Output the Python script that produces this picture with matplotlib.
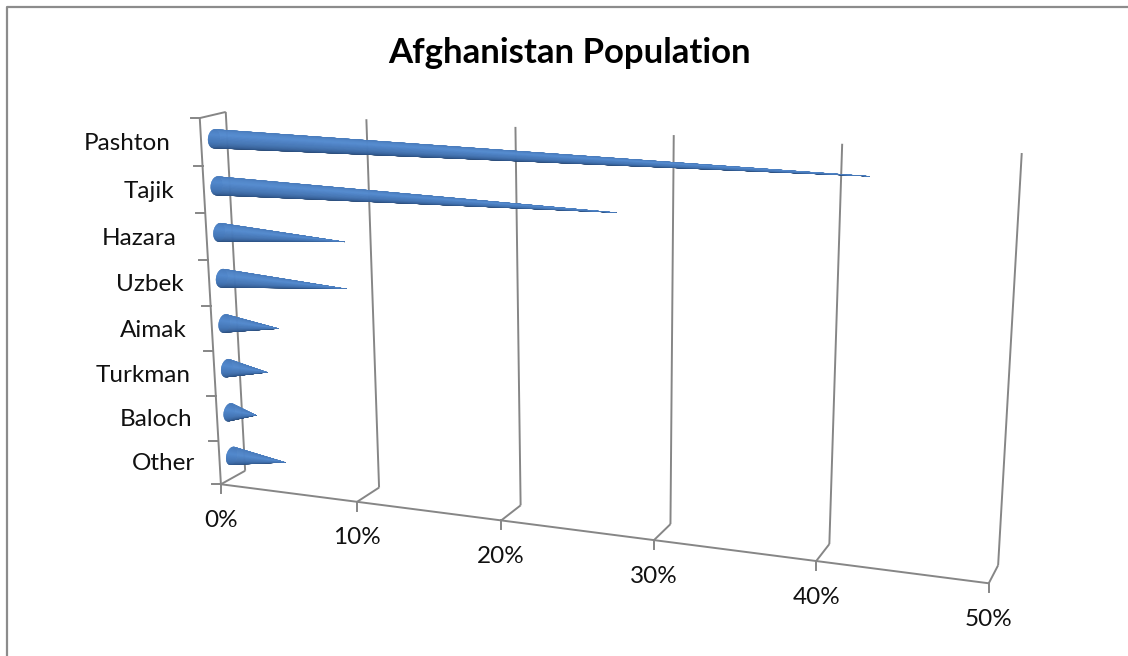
# encoding:utf-8
# Afghanistan ethnic groups drawn as 3D horizontal cones
import numpy as np
import matplotlib
matplotlib.use('Agg')
import matplotlib.pyplot as plt
from matplotlib.collections import PolyCollection
from matplotlib.colors import LinearSegmentedColormap

categories = ['Pashton', 'Tajik', 'Hazara', 'Uzbek', 'Aimak', 'Turkman', 'Baloch', 'Other']
shares = [42, 27, 9, 9, 4, 3, 2, 4]
x_ticks = [0, 10, 20, 30, 40, 50]
title = 'Afghanistan Population'

# box corners on the canvas: (value, height, depth) -> (px, py)
camera_anchors = [
    (0, 0, 0, 221, 484), (10, 0, 0, 357, 501), (20, 0, 0, 501, 521),
    (30, 0, 0, 654, 541), (40, 0, 0, 816, 561), (50, 0, 0, 989, 583),
    (0, 0, 1, 245, 471), (10, 0, 1, 379, 487), (20, 0, 1, 521, 506),
    (30, 0, 1, 671, 525), (40, 0, 1, 829, 543), (50, 0, 1, 998, 565),
    (0, 1, 1, 226, 112), (10, 1, 1, 366, 119), (20, 1, 1, 515, 127),
    (30, 1, 1, 674, 135), (40, 1, 1, 842, 144), (50, 1, 1, 1022, 153),
    (0, 1, 0, 200, 118),
]
grid_color = '#868686'
label_gap = [31, 30, 30, 26, 25, 24, 25, 25]
radius_h = 0.0245
radius_d = 0.24


# fit a 3x4 projection to the box corners
def fit_camera(anchors):
    rows = []
    rhs = []
    for v, h, d, px, py in anchors:
        rows.append([v, h, d, 1, 0, 0, 0, 0, -px * v, -px * h, -px * d])
        rows.append([0, 0, 0, 0, v, h, d, 1, -py * v, -py * h, -py * d])
        rhs += [px, py]
    p = np.linalg.lstsq(np.array(rows, float), np.array(rhs, float), rcond=None)[0]
    return np.append(p, 1).reshape(3, 4)


camera = fit_camera(camera_anchors)


def project(v, h, d):
    v, h, d = np.broadcast_arrays(v, h, d)
    q = camera @ np.array([v, h, d, np.ones_like(v)], dtype=float)
    return q[0] / q[2], q[1] / q[2]


def line3d(ax, a, b, lw=1.4):
    xs, ys = project(np.array([a[0], b[0]]), np.array([a[1], b[1]]), np.array([a[2], b[2]]))
    ax.plot(xs, ys, color=grid_color, lw=lw, solid_capstyle='butt', zorder=1)


plt.rcParams['font.family'] = ['Lato', 'DejaVu Sans']
fig = plt.figure(figsize=(11.28, 6.56), dpi=100)
ax = fig.add_axes([0, 0, 1, 1])
ax.set_xlim(0, 1128)
ax.set_ylim(656, 0)
ax.axis('off')

# chart frame, right and bottom sides run off the canvas
ax.plot([6.5, 6.5, 1140], [670, 6.5, 6.5], color='#8c8c8c', lw=1.6, zorder=1)

ax.text(570, 53, title, ha='center', va='center', fontsize=25, fontweight='bold', color='black')

# walls and floor
x_max = x_ticks[-1]
for tick in x_ticks:
    line3d(ax, (tick, 0, 0), (tick, 0, 1))
    line3d(ax, (tick, 0, 1), (tick, 1, 1))
    px, py = project(tick, 0, 0)
    ax.plot([px, px], [py, py + 9], color=grid_color, lw=1.4, zorder=1)
    ax.text(px, py + 36, '%d%%' % tick, ha='center', va='center', fontsize=17.5, color='#111111')
line3d(ax, (0, 0, 0), (x_max, 0, 0))
line3d(ax, (0, 0, 0), (0, 1, 0))
line3d(ax, (0, 1, 0), (0, 1, 1))

# category ticks and labels on the left edge
n = len(categories)
for i in range(n + 1):
    px, py = project(0, 1 - i / n, 0)
    ax.plot([px - 9, px], [py, py], color=grid_color, lw=1.4, zorder=1)
for i, name in enumerate(categories):
    px, py = project(0, 1 - (i + 0.5) / n, 0)
    ax.text(px - label_gap[i], py + 1.5, name, ha='right', va='center', fontsize=17.5, color='#111111')

# cones, each facet shaded by the direction it faces
shade = LinearSegmentedColormap.from_list('cone', [
    (0.0, '#4a7cbc'), (0.3, '#568dd2'), (0.55, '#4678b8'), (0.8, '#335c92'), (1.0, '#1f3a60')])
angles = np.linspace(0, 2 * np.pi, 97)
for i, value in enumerate(shares):
    h0 = 1 - (i + 0.5) / n
    bx, by = project(0, h0 + radius_h * np.cos(angles), 0.5 - radius_d * np.sin(angles))
    tip = project(value, h0, 0.5)
    polys = []
    colors = []
    depth = []
    for k in range(len(angles) - 1):
        polys.append([(bx[k], by[k]), (bx[k + 1], by[k + 1]), tip])
        mid = (angles[k] + angles[k + 1]) / 2
        colors.append(shade(np.abs(((mid + np.pi) % (2 * np.pi)) - np.pi) / np.pi))
        depth.append(-np.sin(mid))
    order = np.argsort(depth)[::-1]
    # solid base underneath so the facet seams do not let the white show through
    ax.fill(bx, by, color='#4678b8', lw=0, zorder=2)
    cone = PolyCollection([polys[k] for k in order], facecolors=[colors[k] for k in order],
                          edgecolors=[colors[k] for k in order], linewidths=0.1, zorder=3)
    ax.add_collection(cone)

fig.savefig('out.png', dpi=100)
